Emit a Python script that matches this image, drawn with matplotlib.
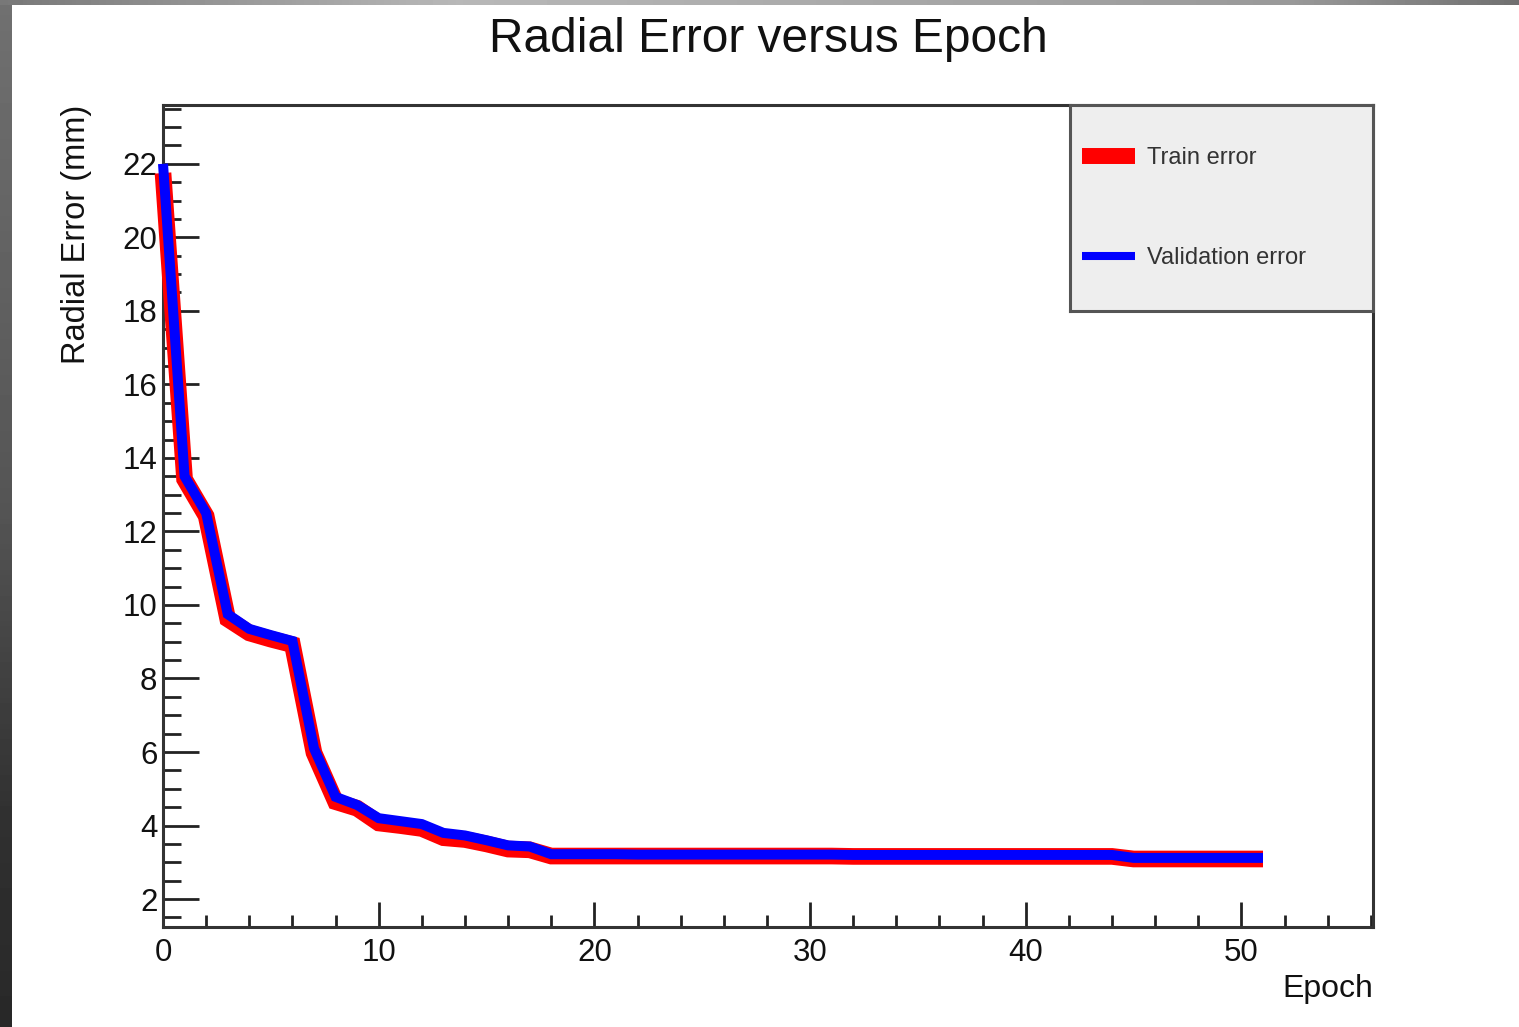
import matplotlib
matplotlib.use("Agg")
import matplotlib.pyplot as plt
import numpy as np
from matplotlib.lines import Line2D
from matplotlib.ticker import MultipleLocator

plt.rcParams['font.family'] = ['Liberation Sans', 'DejaVu Sans']

# values, one per epoch
epochs = list(range(52))
val_error = [22.0, 13.5, 12.5, 9.75, 9.35, 9.18, 9.02, 6.1, 4.78, 4.56,
             4.2, 4.12, 4.04, 3.8, 3.73, 3.6, 3.46, 3.43, 3.22, 3.22,
             3.22, 3.22, 3.21, 3.21, 3.21, 3.21, 3.21, 3.21, 3.21, 3.21,
             3.21, 3.21, 3.2, 3.2, 3.2, 3.2, 3.2, 3.2, 3.2, 3.2,
             3.2, 3.2, 3.2, 3.2, 3.2, 3.12, 3.12, 3.12, 3.12, 3.12,
             3.12, 3.12]
train_error = [21.75, 13.42, 12.42, 9.62, 9.24, 9.07, 8.92, 5.98, 4.65, 4.47,
               4.07, 4.0, 3.92, 3.67, 3.62, 3.5, 3.36, 3.34, 3.17, 3.17,
               3.17, 3.17, 3.17, 3.17, 3.17, 3.17, 3.17, 3.17, 3.17, 3.17,
               3.17, 3.17, 3.16, 3.16, 3.16, 3.16, 3.16, 3.16, 3.16, 3.16,
               3.16, 3.16, 3.16, 3.16, 3.16, 3.09, 3.09, 3.09, 3.09, 3.09,
               3.09, 3.09]

W, H = 1519, 1027
fig = plt.figure(figsize=(W / 100, H / 100), dpi=100)
fig.patch.set_facecolor('white')

# grey gradient frame on the left and top edge
left_strip = np.interp(np.linspace(0, 1, 200), [0, 0.5, 0.8, 1], [0.44, 0.33, 0.19, 0.16])
top_strip = np.interp(np.linspace(0, 1, 400), [0, 0.3, 0.85, 1], [0.47, 0.72, 0.6, 0.44])
axl = fig.add_axes([0, 0, 12 / W, 1])
axl.imshow(left_strip[:, None], cmap='gray', vmin=0, vmax=1, aspect='auto')
axl.axis('off')
axt = fig.add_axes([0, 1 - 5 / H, 1, 5 / H])
axt.imshow(top_strip[None, :], cmap='gray', vmin=0, vmax=1, aspect='auto')
axt.axis('off')

ax = fig.add_axes([163 / W, 1 - 927 / H, (1373 - 163) / W, (927 - 105) / H])
ax.plot(epochs, train_error, color='#ff0000', lw=12, solid_joinstyle='miter',
        solid_capstyle='butt', clip_on=False, zorder=3)
ax.plot(epochs, val_error, color='#0000ff', lw=7.2, solid_joinstyle='miter',
        solid_capstyle='butt', clip_on=False, zorder=4)

ax.set_xlim(0, 56.1)
ax.set_ylim(1.24, 23.6)
ax.xaxis.set_major_locator(MultipleLocator(10))
ax.xaxis.set_minor_locator(MultipleLocator(2))
ax.yaxis.set_major_locator(MultipleLocator(2))
ax.yaxis.set_minor_locator(MultipleLocator(0.5))
ax.tick_params(axis='both', which='both', direction='in', color='#222222', width=2,
               labelsize=22.5, labelcolor='#111111')
ax.tick_params(axis='y', which='major', length=26, pad=4)
ax.tick_params(axis='y', which='minor', length=13)
ax.tick_params(axis='x', which='major', length=18, pad=8)
ax.tick_params(axis='x', which='minor', length=9)
for s in ax.spines.values():
    s.set_linewidth(2.2)
    s.set_color('#333333')

ax.set_xlabel('Epoch', fontsize=23, color='#111111', loc='right', labelpad=4)
ax.set_ylabel('Radial Error (mm)', fontsize=23.5, color='#111111', loc='top', labelpad=22)
fig.text(768 / W, 1 - 39 / H, 'Radial Error versus Epoch', fontsize=34.5,
         color='#111111', ha='center', va='center')

# legend box in the top right corner
legax = fig.add_axes([1070 / W, 1 - 311 / H, (1373 - 1070) / W, (311 - 105) / H])
legax.set_facecolor('#eeeeee')
legax.set_xticks([])
legax.set_yticks([])
for s in legax.spines.values():
    s.set_linewidth(2.2)
    s.set_color('#555555')
handles = [Line2D([], [], color='#ff0000', lw=11.5, solid_capstyle='butt'),
           Line2D([], [], color='#0000ff', lw=5.8, solid_capstyle='butt')]
legax.legend(handles, ['Train error', 'Validation error'], loc='center left',
             frameon=False, fontsize=17, labelspacing=3.3, handlelength=2.25,
             handletextpad=0.5, borderaxespad=0, borderpad=0.5,
             labelcolor='#333333')

fig.savefig('out.png', dpi=100, facecolor='white')
